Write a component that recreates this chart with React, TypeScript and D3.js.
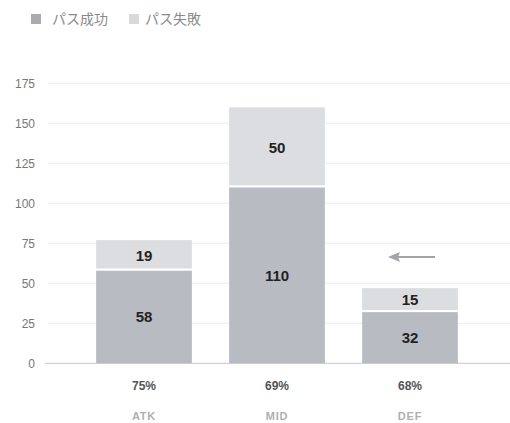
import React from "react";
import * as d3 from "d3";

const categories = ["ATK", "MID", "DEF"];
const success = [58, 110, 32];
const fail = [19, 50, 15];
const rates = ["75%", "69%", "68%"];
const yTicks = [0, 25, 50, 75, 100, 125, 150, 175];
const seriesNames = ["パス成功", "パス失敗"];

const W = 510;
const H = 423;
const colSuccess = "#b8bbc2";
const colFail = "#dcdde0";
const font = "Helvetica, Arial, 'Liberation Sans', 'Noto Sans CJK JP', sans-serif";

export default function App() {
  const y = d3.scaleLinear().domain([0, 175]).range([363.3, 83.3]);
  const x = d3
    .scaleBand<string>()
    .domain(categories)
    .range([77.5, 476.5])
    .paddingInner(0.28)
    .paddingOuter(0.14);
  const bw = x.bandwidth();

  return (
    <svg
      width={W}
      height={H}
      style={{ position: "absolute", left: 0, top: 0, background: "#fff" }}
      fontFamily={font}
    >
      {/* legend */}
      <rect x={31} y={14} width={10} height={10} fill="#aaabaf" />
      <text x={52} y={24} fontSize={14} fill="#8a8a8a">{seriesNames[0]}</text>
      <rect x={129} y={14} width={10} height={10} fill="#d8d9dc" />
      <text x={145} y={24} fontSize={14} fill="#8a8a8a">{seriesNames[1]}</text>

      {/* grid */}
      {yTicks.map((t) => (
        <g key={t}>
          {t > 0 && (
            <line x1={48} x2={510} y1={y(t)} y2={y(t)} stroke="#ededee" strokeWidth={1} />
          )}
          <text x={35} y={y(t)} dy="0.35em" textAnchor="end" fontSize={12} fill="#777">
            {t}
          </text>
        </g>
      ))}
      <line x1={45} x2={510} y1={y(0)} y2={y(0)} stroke="#c8c8cc" strokeWidth={1} />

      {/* bars */}
      {categories.map((c, i) => {
        const x0 = x(c)!;
        const s = success[i];
        const f = fail[i];
        return (
          <g key={c}>
            <rect x={x0} y={y(s)} width={bw} height={y(0) - y(s)} fill={colSuccess} />
            <rect x={x0} y={y(s + f)} width={bw} height={y(s) - y(s + f)} fill={colFail} />
            <line x1={x0} x2={x0 + bw} y1={y(s) - 1} y2={y(s) - 1} stroke="#fff" strokeWidth={2} />
            <text
              x={x0 + bw / 2}
              y={(y(0) + y(s)) / 2}
              dy="0.35em"
              textAnchor="middle"
              fontSize={15}
              fontWeight="bold"
              fill="#222"
            >
              {s}
            </text>
            <text
              x={x0 + bw / 2}
              y={(y(s) + y(s + f)) / 2}
              dy="0.35em"
              textAnchor="middle"
              fontSize={15}
              fontWeight="bold"
              fill="#222"
            >
              {f}
            </text>
            <text x={x0 + bw / 2} y={390} textAnchor="middle" fontSize={12} fontWeight={600} fill="#555">
              {rates[i]}
            </text>
            <text
              x={x0 + bw / 2}
              y={420}
              textAnchor="middle"
              fontSize={11}
              fontWeight={600}
              fill="#b0b0b0"
              letterSpacing={0.8}
            >
              {c}
            </text>
          </g>
        );
      })}

      {/* arrow */}
      <line x1={435} x2={396} y1={257} y2={257} stroke="#a3a4a8" strokeWidth={2.2} />
      <path d="M388,257 L400,252 L398,257 L400,262 Z" fill="#a3a4a8" />
    </svg>
  );
}
